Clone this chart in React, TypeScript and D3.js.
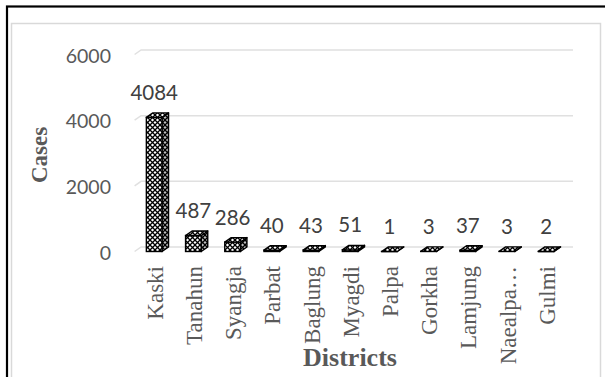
import { useEffect, useRef } from "react";
import * as d3 from "d3";

// Chart data
const districts = [
  "Kaski",
  "Tanahun",
  "Syangja",
  "Parbat",
  "Baglung",
  "Myagdi",
  "Palpa",
  "Gorkha",
  "Lamjung",
  "Naealpa…",
  "Gulmi",
];
const cases = [4084, 487, 286, 40, 43, 51, 1, 3, 37, 3, 2];
const yTicks = [0, 2000, 4000, 6000];

// Size of the picture
const width = 605;
const height = 377;

// 3D depth of the bars (front face is shifted left/down from the back wall)
const DX = 6.5;
const DY = 4.5;

export default function App() {
  const svgRef = useRef<SVGSVGElement | null>(null);

  useEffect(() => {
    const svg = d3.select(svgRef.current);
    svg.selectAll("*").remove();

    // Scales
    const xScale = d3
      .scaleBand<string>()
      .domain(districts)
      .range([134.6, 565.8])
      .paddingInner(0.6)
      .paddingOuter(0.3);
    const yScale = d3.scaleLinear().domain([0, 6000]).range([247, 50]);
    const bw = xScale.bandwidth();

    // Fill pattern for the bars
    const defs = svg.append("defs");
    const pat = defs
      .append("pattern")
      .attr("id", "cross")
      .attr("patternUnits", "userSpaceOnUse")
      .attr("width", 5)
      .attr("height", 5);
    pat.append("rect").attr("width", 5).attr("height", 5).attr("fill", "#fff");
    pat
      .append("path")
      .attr("d", "M0,0L5,5M5,0L0,5")
      .attr("stroke", "#000")
      .attr("stroke-width", 1.3);

    // Frames
    svg
      .append("rect")
      .attr("x", 7)
      .attr("y", 6.5)
      .attr("width", 700)
      .attr("height", 500)
      .attr("fill", "none")
      .attr("stroke", "#000")
      .attr("stroke-width", 2.2);
    svg
      .append("rect")
      .attr("x", 11.5)
      .attr("y", 23.5)
      .attr("width", 589)
      .attr("height", 500)
      .attr("fill", "none")
      .attr("stroke", "#d9d9d9")
      .attr("stroke-width", 1.5);

    // Gridlines (with small 3D floor edge on the left)
    const x0 = xScale.range()[0];
    svg
      .append("g")
      .selectAll("path")
      .data(yTicks)
      .join("path")
      .attr("d", (d) => {
        const y = yScale(d);
        return `M${x0},${y + DY}L${x0 + DX},${y}L573,${y}`;
      })
      .attr("fill", "none")
      .attr("stroke", "#e0e0e0")
      .attr("stroke-width", 1.5);

    // Y tick labels
    svg
      .append("g")
      .selectAll("text")
      .data(yTicks)
      .join("text")
      .attr("x", 111)
      .attr("y", (d) => yScale(d) + 5)
      .attr("text-anchor", "end")
      .attr("dominant-baseline", "central")
      .attr("font-family", "Lato, 'Open Sans', sans-serif")
      .attr("font-size", 19.5)
      .attr("fill", "#595959")
      .text((d) => d);

    // Bars: side, front and top faces
    const bars = svg
      .append("g")
      .selectAll("g")
      .data(districts.map((name, i) => ({ name, value: cases[i] })))
      .join("g");

    const fb = yScale(0) + DY;
    const sidePath = (d: { name: string; value: number }) => {
      const x = xScale(d.name)!;
      const ft = yScale(d.value) + DY;
      return `M${x + bw},${ft}L${x + bw + DX},${ft - DY}L${x + bw + DX},${fb - DY}L${x + bw},${fb}Z`;
    };
    bars
      .append("path")
      .attr("d", sidePath)
      .attr("fill", "url(#cross)")
      .attr("stroke", "#000")
      .attr("stroke-width", 1.4)
      .attr("stroke-linejoin", "round");
    bars
      .append("path")
      .attr("d", sidePath)
      .attr("fill", "#000")
      .attr("opacity", 0.25);
    bars
      .append("rect")
      .attr("x", (d) => xScale(d.name)!)
      .attr("y", (d) => yScale(d.value) + DY)
      .attr("width", bw)
      .attr("height", (d) => fb - (yScale(d.value) + DY))
      .attr("fill", "url(#cross)")
      .attr("stroke", "#000")
      .attr("stroke-width", 1.4);
    bars
      .append("path")
      .attr("d", (d) => {
        const x = xScale(d.name)!;
        const ft = yScale(d.value) + DY;
        return `M${x},${ft}L${x + DX},${ft - DY}L${x + bw + DX},${ft - DY}L${x + bw},${ft}Z`;
      })
      .attr("fill", "url(#cross)")
      .attr("stroke", "#000")
      .attr("stroke-width", 1.4)
      .attr("stroke-linejoin", "round");

    // Value labels
    bars
      .append("text")
      .attr("x", (d) => xScale(d.name)! + bw / 2)
      .attr("y", (d) => yScale(d.value) - 21)
      .attr("text-anchor", "middle")
      .attr("dominant-baseline", "central")
      .attr("font-family", "Lato, 'Open Sans', sans-serif")
      .attr("font-size", 20.5)
      .attr("fill", "#404040")
      .text((d) => d.value);

    // Category labels (rotated)
    svg
      .append("g")
      .selectAll("text")
      .data(districts)
      .join("text")
      .attr(
        "transform",
        (d) => `translate(${xScale(d)! + bw / 2 + 1},266) rotate(-90)`
      )
      .attr("text-anchor", "end")
      .attr("dominant-baseline", "central")
      .attr("font-family", "'Liberation Serif', 'Times New Roman', serif")
      .attr("font-size", 23)
      .attr("fill", "#595959")
      .text((d) => d);

    // Axis titles
    svg
      .append("text")
      .attr("x", 350)
      .attr("y", 366)
      .attr("text-anchor", "middle")
      .attr("font-family", "'Liberation Serif', 'Times New Roman', serif")
      .attr("font-weight", "bold")
      .attr("font-size", 26)
      .attr("fill", "#595959")
      .text("Districts");
    svg
      .append("text")
      .attr("transform", "translate(47,155) rotate(-90)")
      .attr("text-anchor", "middle")
      .attr("font-family", "'Liberation Serif', 'Times New Roman', serif")
      .attr("font-weight", "bold")
      .attr("font-size", 23)
      .attr("fill", "#595959")
      .text("Cases");
  }, []);

  return (
    <svg
      ref={svgRef}
      width={width}
      height={height}
      style={{ position: "absolute", left: 0, top: 0, display: "block", background: "#fff" }}
    />
  );
}
